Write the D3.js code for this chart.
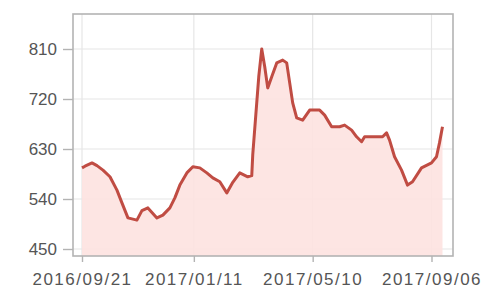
<!DOCTYPE html>
<html>
<head>
<meta charset="utf-8">
<script src="https://cdn.jsdelivr.net/npm/d3@7"></script>
<style>
  body { margin: 0; background: #fff; }
  svg { display: block; }
</style>
</head>
<body>
<div id="chart"></div>
<script>
// dates and prices
const dates = [
    "2016-09-21", "2016-09-24", "2016-10-01", "2016-10-06", "2016-10-12", "2016-10-19",
    "2016-10-26", "2016-10-31", "2016-11-06", "2016-11-15", "2016-11-20", "2016-11-26",
    "2016-12-05", "2016-12-11", "2016-12-18", "2016-12-23", "2016-12-28", "2017-01-04",
    "2017-01-10", "2017-01-17", "2017-01-24", "2017-01-30", "2017-02-06", "2017-02-13",
    "2017-02-19", "2017-02-26", "2017-03-06", "2017-03-10", "2017-03-11", "2017-03-14",
    "2017-03-17", "2017-03-20", "2017-03-23", "2017-03-26", "2017-03-30", "2017-04-04",
    "2017-04-10", "2017-04-14", "2017-04-17", "2017-04-20", "2017-04-24", "2017-04-30",
    "2017-05-07", "2017-05-17", "2017-05-22", "2017-05-29", "2017-06-06", "2017-06-11",
    "2017-06-18", "2017-06-23", "2017-06-28", "2017-07-01", "2017-07-19", "2017-07-23",
    "2017-07-26", "2017-07-31", "2017-08-07", "2017-08-13", "2017-08-18", "2017-08-27",
    "2017-09-06", "2017-09-11", "2017-09-14", "2017-09-17"
];
const prices = [
    596, 599, 605, 600, 592, 580,
    556, 533, 506, 502, 519, 524,
    506, 511, 524, 542, 565, 587,
    598, 596, 587, 578, 571, 551,
    570, 587, 580, 582, 620, 690,
    760, 810, 778, 740, 760, 785,
    790, 785, 749, 713, 686, 682,
    700, 700, 691, 670, 670, 673,
    664, 652, 643, 652, 652, 659,
    646, 616, 592, 565, 571, 596,
    605, 616, 641, 670
];
const yTicks = [450, 540, 630, 720, 810];
const xTickLabels = ["2016/09/21", "2017/01/11", "2017/05/10", "2017/09/06"];

const W = 500, H = 303;
const frame = { left: 73, right: 453, top: 14, bottom: 256 };

const parse = d3.timeParse("%Y-%m-%d");
const fmt = d3.timeFormat("%Y/%m/%d");
const parseTick = d3.timeParse("%Y/%m/%d");
const data = dates.map((d, i) => ({ date: parse(d), value: prices[i] }));
const xTicks = xTickLabels.map(parseTick);

const x = d3.scaleTime()
    .domain([xTicks[0], xTicks[3]])
    .range([82, 431.5]);

const y = d3.scaleLinear()
    .domain([450, 810])
    .range([249, 49]);

const svg = d3.select("#chart")
    .append("svg")
    .attr("width", W)
    .attr("height", H);

// grille
svg.append("g")
    .selectAll("line")
    .data(yTicks)
    .join("line")
    .attr("x1", frame.left)
    .attr("x2", frame.right)
    .attr("y1", d => y(d))
    .attr("y2", d => y(d))
    .attr("stroke", "#e6e6e6")
    .attr("stroke-width", 1.2);

svg.append("g")
    .selectAll("line")
    .data(xTicks)
    .join("line")
    .attr("x1", d => x(d))
    .attr("x2", d => x(d))
    .attr("y1", frame.top)
    .attr("y2", frame.bottom)
    .attr("stroke", "#e6e6e6")
    .attr("stroke-width", 1.2);

// area + line
const area = d3.area()
    .x(d => x(d.date))
    .y0(frame.bottom)
    .y1(d => y(d.value));

svg.append("path")
    .datum(data)
    .attr("d", area)
    .attr("fill", "#fde2e0")
    .attr("fill-opacity", 0.9);

const line = d3.line()
    .x(d => x(d.date))
    .y(d => y(d.value));

svg.append("path")
    .datum(data)
    .attr("d", line)
    .attr("fill", "none")
    .attr("stroke", "#c04c43")
    .attr("stroke-width", 3)
    .attr("stroke-linejoin", "round");

// frame
svg.append("rect")
    .attr("x", frame.left)
    .attr("y", frame.top)
    .attr("width", frame.right - frame.left)
    .attr("height", frame.bottom - frame.top)
    .attr("fill", "none")
    .attr("stroke", "#b3b3b3")
    .attr("stroke-width", 1.6);

// axes
const yAxis = svg.append("g")
    .attr("transform", `translate(${frame.left},0)`)
    .call(d3.axisLeft(y).tickValues(yTicks).tickSize(10).tickPadding(6));

const xAxis = svg.append("g")
    .attr("transform", `translate(0,${frame.bottom})`)
    .call(d3.axisBottom(x).tickValues(xTicks).tickFormat(fmt).tickSize(6).tickPadding(11));

[yAxis, xAxis].forEach(g => {
    g.select(".domain").remove();
    g.selectAll(".tick line").attr("stroke", "#b3b3b3").attr("stroke-width", 1.4);
    g.selectAll(".tick text")
        .attr("fill", "#555")
        .attr("font-family", "Liberation Sans, Arial, sans-serif")
        .attr("font-size", "17px");
});
xAxis.selectAll(".tick text").attr("letter-spacing", "1.5px");
</script>
</body>
</html>
